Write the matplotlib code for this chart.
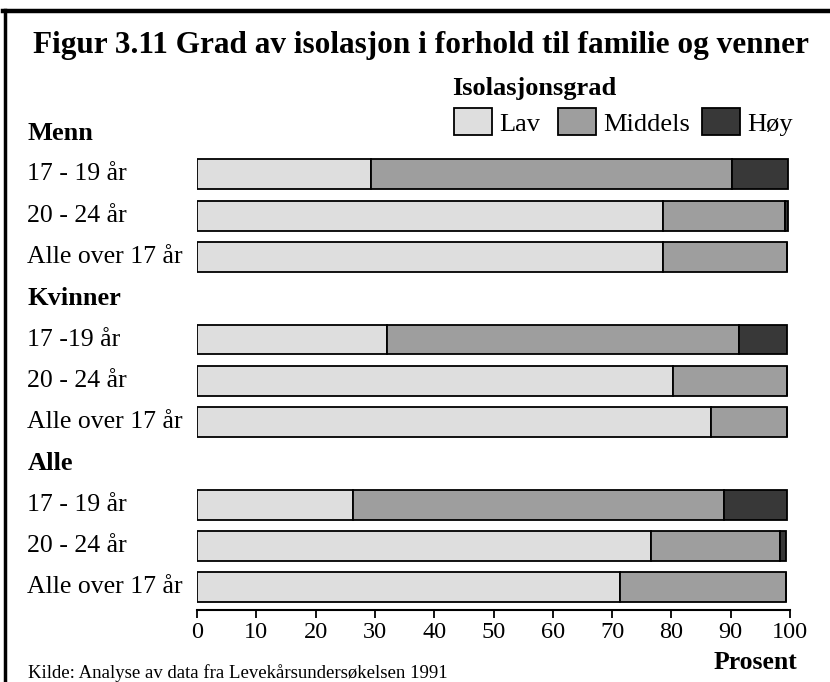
import matplotlib
matplotlib.use('Agg')
import matplotlib.pyplot as plt
from matplotlib.lines import Line2D

# data (percent)
groups = ['Menn', 'Kvinner', 'Alle']
rows = ['17 - 19 år', '20 - 24 år', 'Alle over 17 år',
        '17 -19 år', '20 - 24 år', 'Alle over 17 år',
        '17 - 19 år', '20 - 24 år', 'Alle over 17 år']
lav = [29.3, 78.5, 78.5, 32.0, 80.3, 86.7, 26.3, 76.6, 71.4]
middels = [60.9, 20.7, 21.0, 59.4, 19.2, 12.8, 62.6, 21.7, 27.9]
hoy = [9.5, 0.5, 0.0, 8.1, 0.0, 0.0, 10.6, 1.0, 0.0]
series = ['Lav', 'Middels', 'Høy']
colors = ['#dedede', '#9e9e9e', '#383838']
xticks = [0, 10, 20, 30, 40, 50, 60, 70, 80, 90, 100]

plt.rcParams['font.family'] = ['Liberation Serif', 'DejaVu Serif']

W, H = 830, 682
fig = plt.figure(figsize=(W / 100, H / 100), dpi=100)

# row positions: a header line before each group of three
ypos = []
headpos = []
k = 0
for g in range(len(groups)):
    headpos.append(k)
    k += 1
    for r in range(3):
        ypos.append(k)
        k += 1

top_px, bot_px = 112, 610
ax = fig.add_axes([197 / W, 1 - bot_px / H, (790 - 197) / W, (bot_px - top_px) / H])
ax.set_xlim(0, 100)
ax.set_ylim(11.55, -0.51)

left = [0] * len(lav)
handles = []
for vals, c, name in zip([lav, middels, hoy], colors, series):
    b = ax.barh(ypos, vals, left=left, height=0.72, color=c,
                edgecolor='black', linewidth=1.3, label=name)
    handles.append(b)
    left = [l + v for l, v in zip(left, vals)]

for s in ['top', 'right', 'left']:
    ax.spines[s].set_visible(False)
ax.spines['bottom'].set_linewidth(1.5)
ax.set_yticks([])
ax.set_xticks(xticks)
ax.tick_params(axis='x', direction='out', length=6, width=1.3, labelsize=17.5, pad=3)

# category labels on the left side
for i, y in enumerate(ypos):
    ax.text(-28.6, y, rows[i], ha='left', va='center', fontsize=18.5, clip_on=False)
for g, y in zip(groups, headpos):
    ax.text(-28.6, y, g, ha='left', va='center', fontsize=19, fontweight='bold', clip_on=False)

ax.text(101.3, 11.55 + 1.27, 'Prosent', ha='right', va='center', fontsize=18.5, fontweight='bold', clip_on=False)

fig.text(33 / W, 1 - 45 / H, 'Figur 3.11 Grad av isolasjon i forhold til familie og venner',
         fontsize=22.5, fontweight='bold', ha='left', va='center')
fig.text(28 / W, 1 - 673 / H, 'Kilde: Analyse av data fra Levekårsundersøkelsen 1991',
         fontsize=13.5, ha='left', va='center')

# legend: title plus one entry per series
fig.text(452 / W, 1 - 88 / H, 'Isolasjonsgrad', fontsize=19, fontweight='bold', ha='left', va='center')
leg_x = [454, 558, 702]
for h, name, lx in zip(handles, series, leg_x):
    leg = fig.legend([h], [name], loc='center left', bbox_to_anchor=(lx / W, 1 - 122 / H),
                     frameon=False, fontsize=19, handlelength=1.45, handleheight=1.15,
                     handletextpad=0.25, borderpad=0, borderaxespad=0)

# frame lines at top and left
fig.add_artist(Line2D([3 / W, 1], [1 - 11 / H, 1 - 11 / H], color='black', linewidth=3.2))
fig.add_artist(Line2D([5 / W, 5 / W], [0, 1 - 10 / H], color='black', linewidth=2.5))

fig.savefig('out.png', dpi=100)
